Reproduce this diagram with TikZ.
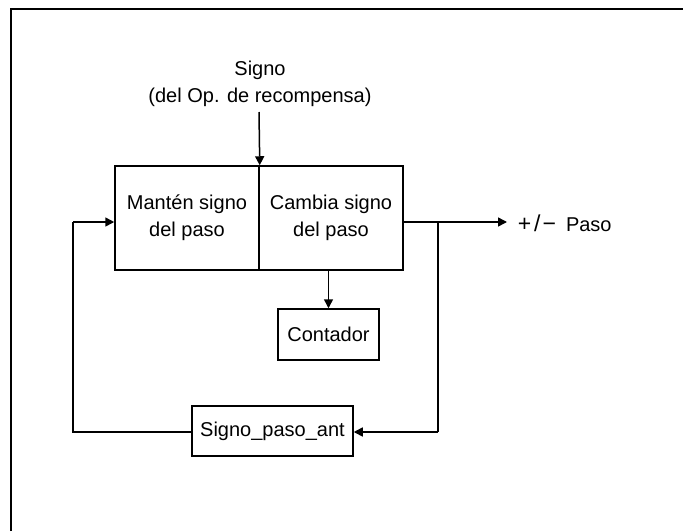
\documentclass[tikz,border=0pt]{standalone}
\usepackage{fontspec}
\setmainfont{Liberation Sans}
\usetikzlibrary{arrows.meta}
\begin{document}
\begin{tikzpicture}[x=1pt,y=-1pt, line width=1.5pt,
  txt/.style={font=\fontsize{20}{27}\selectfont, align=center},
  box/.style={draw, rectangle, inner sep=0pt, txt},
  arr/.style={-{Triangle[length=9pt,width=9pt]}}]
\useasboundingbox (0,0) rectangle (683,531);
\draw (11,531) -- (11,9) -- (683,9);
% text on top
\node[txt, inner sep=0pt] (sig) at (260,84) {Signo\\(del Op. de recompensa)};
% main boxes
\node[box, minimum width=144pt, minimum height=104pt] (keep) at (187,218) {Mant\'en signo\\del paso};
\node[box, minimum width=144pt, minimum height=104pt] (change) at (331,218) {Cambia signo\\del paso};
\node[box, minimum width=101pt, minimum height=51pt] (cnt) at (328.5,334.5) {Contador};
\node[box, minimum width=161pt, minimum height=50pt] (ant) at (272.5,431) {Signo\_paso\_ant};
\node[txt, anchor=west, inner sep=0pt] (out) at (517,223) {{\fontsize{23}{27}\selectfont +\hspace{3pt}/\hspace{2pt}−}\hspace{10pt}Paso};
% coordinates
\coordinate (sigtop) at (259,112);
\coordinate (br) at (438,222);
\coordinate (brdown) at (438,432);
\coordinate (lx) at (73,432);
\coordinate (ly) at (73,222);
\coordinate (outend) at (507,222);
% connectors
\draw[arr] (sigtop) -- (keep.north east);
\draw[arr] ([yshift=-4pt]change.east) -- (outend);
\draw (br) -- (brdown);
\draw[arr] (brdown) -- (brdown -| ant.east);
\draw (ant.west |- lx) -- (lx) -- (ly);
\draw[arr] (ly) -- (ly -| keep.west);
\draw[arr] (change.south -| cnt.north) -- (cnt.north);
\end{tikzpicture}
\end{document}
